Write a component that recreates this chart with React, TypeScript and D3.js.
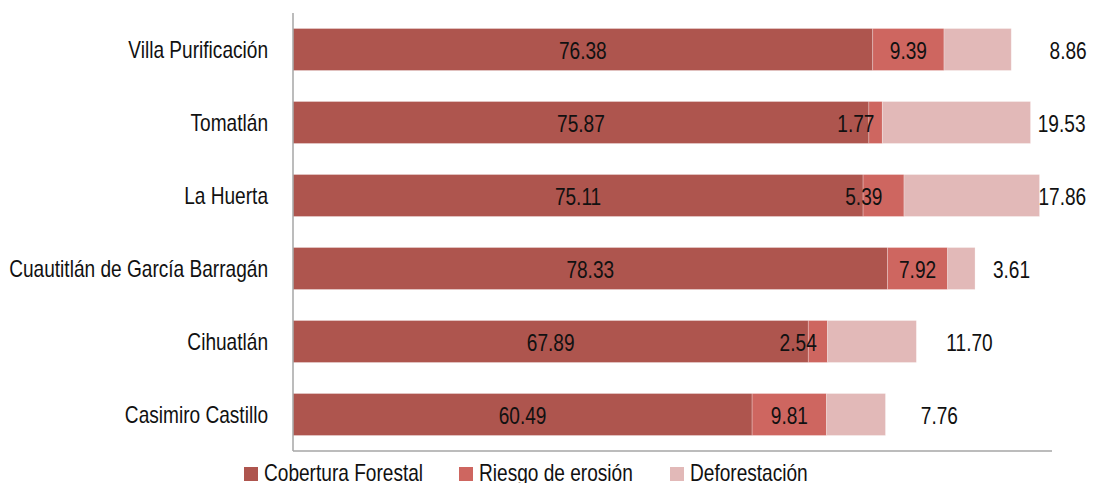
import React from "react";
import * as d3 from "d3";

const categories = [
  "Villa Purificación",
  "Tomatlán",
  "La Huerta",
  "Cuautitlán de García Barragán",
  "Cihuatlán",
  "Casimiro Castillo",
];
const cobertura = [76.38, 75.87, 75.11, 78.33, 67.89, 60.49];
const riesgo = [9.39, 1.77, 5.39, 7.92, 2.54, 9.81];
const deforestacion = [8.86, 19.53, 17.86, 3.61, 11.7, 7.76];
const seriesNames = ["Cobertura Forestal", "Riesgo de erosión", "Deforestación"];
// label nudges (in value units) as placed in the original
const riesgoLabelShift = [0, -2.6, -2.6, 0, -2.6, 0];
const deforLabelShift = [7.5, 4.1, 3.0, 4.8, 7.0, 7.1];

const colors = ["#AE554E", "#CE6660", "#E2B9B8"];
const FONT = "'Liberation Sans', Arial, sans-serif";
const SX = 0.83;

function T({ x, y, anchor = "start", children }: { x: number; y: number; anchor?: string; children: any }) {
  return (
    <text
      transform={`translate(${x},${y}) scale(${SX},1)`}
      textAnchor={anchor as any}
      dominantBaseline="central"
      fontSize={23}
      fill="#111"
    >
      {children}
    </text>
  );
}

export default function App() {
  const W = 1094;
  const H = 483;
  const x = d3.scaleLinear().domain([0, 100]).range([293, 1052]);
  const y = d3.scaleBand<string>().domain(categories).range([13, 451]).paddingInner(0.425).paddingOuter(0.2125);

  const rows = categories.map((c, i) => ({
    c,
    vals: [cobertura[i], riesgo[i], deforestacion[i]],
  }));
  const stack = d3
    .stack<any>()
    .keys(["0", "1", "2"])
    .value((d: any, k: string) => d.vals[+k]);
  const stacked = stack(rows);

  const legendX = [244, 459, 670];

  return (
    <svg
      width={W}
      height={H}
      style={{ position: "absolute", left: 0, top: 0, background: "#fff" }}
      fontFamily={FONT}
    >
      {stacked.map((layer, si) =>
        layer.map((seg, i) => (
          <rect
            key={`${si}-${i}`}
            x={x(seg[0])}
            y={y(categories[i])!}
            width={x(seg[1]) - x(seg[0])}
            height={y.bandwidth()}
            fill={colors[si]}
            stroke="#fff"
            strokeOpacity={0.35}
            strokeWidth={0.75}
          />
        ))
      )}
      {/* axes */}
      <line x1={293} x2={293} y1={13} y2={451} stroke="#a6a6a6" strokeWidth={1.5} />
      <line x1={293} x2={1052} y1={451} y2={451} stroke="#a6a6a6" strokeWidth={1.5} />
      {categories.map((c) => (
        <T key={c} x={268} y={y(c)! + y.bandwidth() / 2} anchor="end">
          {c}
        </T>
      ))}
      {stacked.map((layer, si) =>
        layer.map((seg, i) => {
          let cx = (seg[0] + seg[1]) / 2;
          if (si === 1) cx += riesgoLabelShift[i];
          if (si === 2) cx = seg[1] + deforLabelShift[i];
          return (
            <T key={`l${si}-${i}`} x={x(cx)} y={y(categories[i])! + y.bandwidth() / 2 + 1} anchor="middle">
              {rows[i].vals[si].toFixed(2)}
            </T>
          );
        })
      )}
      {seriesNames.map((n, i) => (
        <g key={n}>
          <rect x={legendX[i]} y={467} width={14} height={14} fill={colors[i]} />
          <T x={legendX[i] + 20} y={473}>
            {n}
          </T>
        </g>
      ))}
    </svg>
  );
}
